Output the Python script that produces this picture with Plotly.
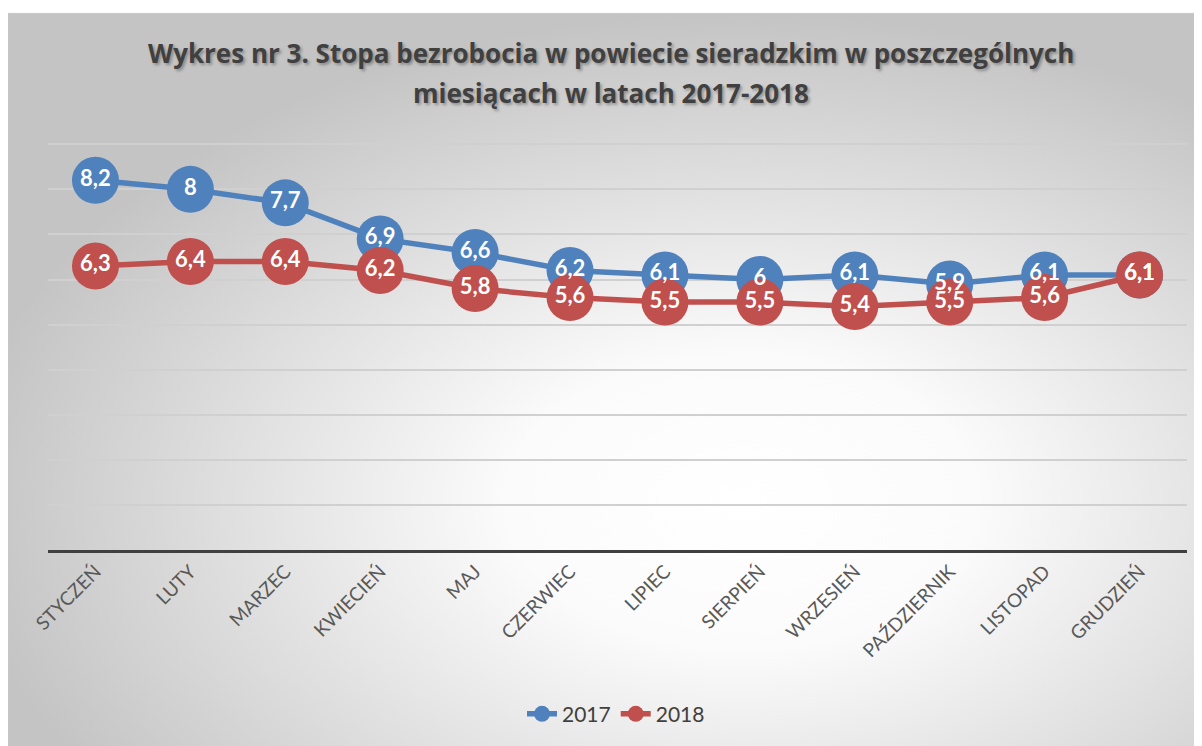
import base64
import plotly.graph_objects as go

months = ["STYCZEŃ", "LUTY", "MARZEC", "KWIECIEŃ", "MAJ", "CZERWIEC", "LIPIEC",
          "SIERPIEŃ", "WRZESIEŃ", "PAŹDZIERNIK", "LISTOPAD", "GRUDZIEŃ"]
y2017 = [8.2, 8.0, 7.7, 6.9, 6.6, 6.2, 6.1, 6.0, 6.1, 5.9, 6.1, 6.1]
y2018 = [6.3, 6.4, 6.4, 6.2, 5.8, 5.6, 5.5, 5.5, 5.4, 5.5, 5.6, 6.1]
title_lines = ["Wykres nr 3. Stopa bezrobocia w powiecie sieradzkim w poszczególnych",
               "miesiącach w latach 2017-2018"]

# page has an 8px body margin; figure coordinates = page coordinates - 8
OFF = 8
W, H = 1202 - OFF, 746 - OFF
YMAX = 9.05
PXU = 45.3
ML = 48 - OFF
MR = W - (1187 - OFF)
MB = H - (552 - OFF)
PH = int(round(YMAX * PXU))
MT = H - MB - PH
PW = W - ML - MR

def fmt(v):
    return ("%g" % v).replace(".", ",")

FONT = "Lato"
series = [("2017", y2017, "#4f81bd"), ("2018", y2018, "#c0504d")]

fig = go.Figure()
for name, ys, col in series:
    fig.add_trace(go.Scatter(
        x=months, y=ys, name=name, mode="lines+markers",
        line=dict(color=col, width=5.5),
        marker=dict(color=col, size=47),
        cliponaxis=False,
    ))
for name, ys, col in series:
    fig.add_trace(go.Scatter(
        x=months, y=ys, name=name, mode="text", showlegend=False,
        text=[fmt(v) for v in ys], textposition="middle center",
        textfont=dict(family=FONT, size=22, color="white", weight="bold"),
        cliponaxis=False, hoverinfo="skip",
    ))

bw, bh = W + 30, H + 30
svg = f'''<svg xmlns="http://www.w3.org/2000/svg" width="{bw}" height="{bh}" viewBox="0 0 {bw} {bh}">
<defs><radialGradient id="g" cx="0.6" cy="0.64" r="0.64" fx="0.6" fy="0.64">
<stop offset="0" stop-color="#ffffff"/><stop offset="0.3" stop-color="#fbfbfb"/><stop offset="1" stop-color="#c4c4c4"/></radialGradient></defs>
<rect x="0.75" y="0.75" width="{bw}" height="{bh}" fill="url(#g)" stroke="#c8c8c8" stroke-width="1.5"/></svg>'''
src = "data:image/svg+xml;base64," + base64.b64encode(svg.encode()).decode()

px = lambda x: (x - OFF - ML) / PW
py = lambda y: (H - MB - (y - OFF)) / PH

fig.add_layout_image(dict(
    source=src, xref="paper", yref="paper",
    x=px(7), y=py(12), sizex=bw / PW, sizey=bh / PH,
    xanchor="left", yanchor="top", sizing="stretch", layer="below",
))

for t, yy in zip(title_lines, [53, 93]):
    fig.add_annotation(
        text=t, xref="paper", yref="paper",
        x=px(611), y=py(yy),
        xanchor="center", yanchor="middle", showarrow=False,
        font=dict(family="Open Sans", size=26, color="#404040", weight="bold",
                  shadow="2px 2px 3px rgba(0,0,0,0.3)"),
    )

fig.update_layout(
    width=W, height=H,
    margin=dict(l=ML, r=MR, t=MT, b=MB, pad=0),
    paper_bgcolor="white", plot_bgcolor="rgba(0,0,0,0)",
    showlegend=True,
    legend=dict(orientation="h", x=px(616), xanchor="center",
                y=py(717), yanchor="middle",
                font=dict(family=FONT, size=21, color="#404040"),
                bgcolor="rgba(0,0,0,0)"),
    xaxis=dict(range=[-0.5, 11.5], showgrid=False, showline=True,
               linecolor="#404040", linewidth=3,
               tickangle=-45, ticks="",
               tickfont=dict(family=FONT, size=19, color="#595959")),
    yaxis=dict(range=[0, YMAX], dtick=1, showticklabels=False,
               showgrid=True, gridcolor="#d0d0d0", gridwidth=1.5,
               zeroline=False, ticks=""),
)

fig.write_html("out.html")
